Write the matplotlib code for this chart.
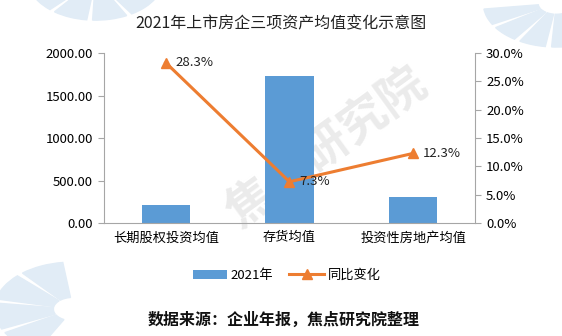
import matplotlib.pyplot as plt
from matplotlib.patches import Wedge
from matplotlib.ticker import FuncFormatter, MultipleLocator

plt.rcParams['font.family'] = ['Noto Sans CJK SC', 'DejaVu Sans']

categories = ['长期股权投资均值', '存货均值', '投资性房地产均值']
avg_2021 = [212, 1728, 306]
yoy_change = [28.3, 7.3, 12.3]

bar_color = '#5B9BD5'
line_color = '#ED7D31'
axis_color = '#A6A6A6'

fig = plt.figure(figsize=(5.62, 3.36), dpi=100)

# faint logo fans behind everything
for cx, cy, r, t1, t2 in [(0.13, 0.08, 0.14, 95, 245), (0.17, 1.06, 0.12, 195, 335),
                          (0.99, 0.99, 0.13, 185, 290)]:
    n = 4
    step = (t2 - t1) / n
    for k in range(n):
        a = t1 + k * step
        fig.patches.append(Wedge((cx, cy), r, a + 2.5, a + step - 2.5,
                                 width=r * 0.75, transform=fig.transFigure,
                                 color='#E1ECF6', zorder=-2))
fig.text(0.58, 0.56, '焦点研究院', fontsize=34, fontweight='bold', color='#EBEBEB',
         rotation=36, ha='center', va='center', zorder=-1)

ax = fig.add_axes([0.185, 0.336, 0.66, 0.506])
ax.patch.set_alpha(0)
x = range(len(categories))
ax.bar(x, avg_2021, width=0.39, color=bar_color, label='2021年', zorder=2)
ax.set_ylim(0, 2000)
ax.set_xlim(-0.5, 2.5)
ax.yaxis.set_major_locator(MultipleLocator(500))
ax.yaxis.set_major_formatter(FuncFormatter(lambda v, p: f'{v:.2f}'))
ax.set_xticks(list(x))
ax.set_xticklabels(categories, fontsize=9.5)
ax.tick_params(axis='x', length=0, pad=6)
ax.tick_params(axis='y', labelsize=9.5, length=4, color=axis_color, pad=4)

ax2 = ax.twinx()
ax2.plot(x, yoy_change, color=line_color, linewidth=2.2, marker='^',
         markersize=7, label='同比变化', zorder=3)
for xi, v in zip(x, yoy_change):
    ax2.annotate(f'{v}%', (xi, v), xytext=(7, 0), textcoords='offset points',
                 fontsize=9.5, va='center', ha='left', color='#222222')
ax2.set_ylim(0, 30)
ax2.yaxis.set_major_locator(MultipleLocator(5))
ax2.yaxis.set_major_formatter(FuncFormatter(lambda v, p: f'{v:.1f}%'))
ax2.tick_params(axis='y', labelsize=9.5, length=4, color=axis_color, pad=4)

for a in (ax, ax2):
    a.spines['top'].set_visible(False)
    for s in ('left', 'right', 'bottom'):
        a.spines[s].set_color(axis_color)
ax.spines['right'].set_visible(False)
ax2.spines['left'].set_visible(False)
ax2.spines['bottom'].set_visible(False)

fig.text(0.5, 0.93, '2021年上市房企三项资产均值变化示意图', fontsize=11.5,
         ha='center', va='center', color='#222222')

h1, l1 = ax.get_legend_handles_labels()
h2, l2 = ax2.get_legend_handles_labels()
fig.legend(h1 + h2, l1 + l2, loc='center', bbox_to_anchor=(0.51, 0.18), ncol=2,
           frameon=False, fontsize=9.5, handlelength=2.6, handleheight=0.7,
           columnspacing=1.2, handletextpad=0.3)

fig.text(0.505, 0.047, '数据来源：企业年报，焦点研究院整理', fontsize=11.5,
         fontweight='bold', ha='center', va='center', color='#111111')

fig.savefig('out.png', dpi=100)
